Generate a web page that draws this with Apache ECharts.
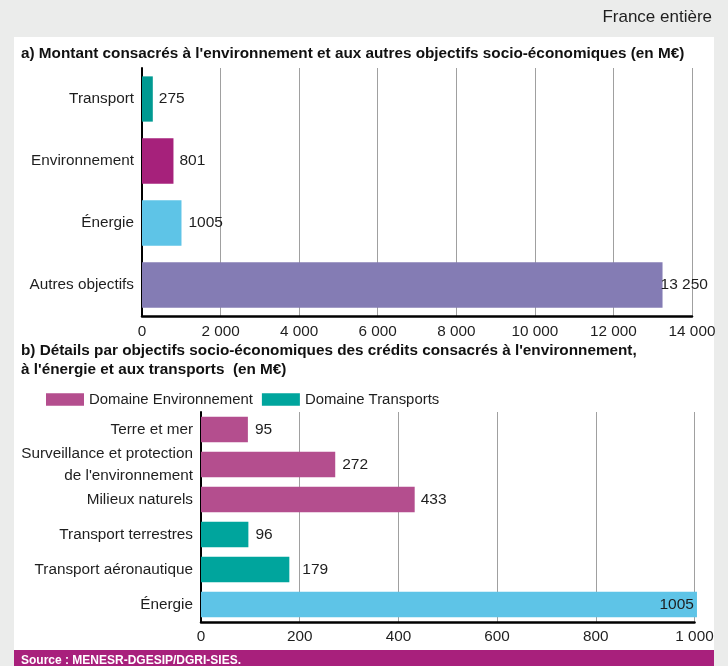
<!DOCTYPE html>
<html><head><meta charset="utf-8">
<script src="https://cdn.jsdelivr.net/npm/echarts@6/dist/echarts.min.js"></script>
<style>html,body{margin:0;padding:0;background:#ebeceb}#c{width:728px;height:666px}</style>
</head><body><div id="c"></div>
<script>
// ---- Data ----
const catsA = ['Transport', 'Environnement', 'Énergie', 'Autres objectifs'];
const valuesA = [275, 801, 1005, 13250];
const labelsA = ['275', '801', '1005', '13 250'];

const catsB = ['Terre et mer', "Surveillance et protection\nde l'environnement", 'Milieux naturels', 'Transport terrestres', 'Transport aéronautique', 'Énergie'];
const envB = [95, 272, 433, null, null, null];
const trpB = [null, null, null, 96, 179, null];
const nrgB = [null, null, null, null, null, 1005];
const ticksA = [0, 2000, 4000, 6000, 8000, 10000, 12000, 14000];
const ticksB = [0, 200, 400, 600, 800, 1000];

// ---- Styles ----
const FONT = "'Liberation Sans', Arial, sans-serif";
const TXT = '#1e1e1e';
const colorsA = ['#009a92', '#a6217b', '#5ec4e7', '#847cb4'];
const colEnv = '#b44e8e', colTrp = '#00a59d', colNrg = '#5ec4e7';
const distA = [6, 6, 7, -2];
const distB = [7, 7, 6, 7, 13, 3];
const fmt = v => { const s = String(v); return s.length > 3 ? s.slice(0, -3) + ' ' + s.slice(-3) : s; };

const chart = echarts.init(document.getElementById('c'));

const seriesA = {
  type: 'bar', xAxisIndex: 0, yAxisIndex: 0, barCategoryGap: '27%',
  data: valuesA.map((v, i) => ({
    value: v, itemStyle: { color: colorsA[i] },
    label: { show: true, position: 'right', distance: distA[i], formatter: labelsA[i],
      color: TXT, fontSize: 15.5, fontFamily: FONT }
  }))
};
function seriesB(name, arr, color) {
  return {
    name, type: 'bar', xAxisIndex: 1, yAxisIndex: 1, stack: 'b', barCategoryGap: '27%', clip: false,
    itemStyle: { color },
    data: arr.map((v, i) => v == null ? '-' : ({
      value: v,
      label: { show: true, position: i === 5 ? 'insideRight' : 'right', distance: distB[i],
        formatter: String(v), color: TXT, fontSize: 15.5, fontFamily: FONT }
    }))
  };
}

const valueAxis = (grid, max, interval, margin) => ({
  type: 'value', gridIndex: grid, min: 0, max, interval,
  axisLine: { show: true, lineStyle: { color: '#000', width: 2.5 } },
  axisTick: { show: false },
  splitLine: { show: true, lineStyle: { color: '#a0a0a0', width: 1 } },
  axisLabel: { color: TXT, fontSize: 15.3, fontFamily: FONT, margin, formatter: fmt }
});
const catAxis = (grid, data) => ({
  type: 'category', gridIndex: grid, data, inverse: true,
  axisLine: { show: true, lineStyle: { color: '#000', width: 2 } },
  axisTick: { show: false },
  axisLabel: { color: TXT, fontSize: 15.3, fontFamily: FONT, margin: 8, lineHeight: 22 }
});

chart.setOption({
  animation: false,
  backgroundColor: '#ebeceb',
  graphic: [
    { type: 'rect', shape: { x: 14, y: 37, width: 700, height: 613 }, style: { fill: '#ffffff' }, z: -10 },
    { type: 'rect', shape: { x: 14, y: 650, width: 700, height: 16 }, style: { fill: '#a8207c' }, z: 1 },
    { type: 'text', left: 21, top: 655, z: 2, style: { text: 'Source : MENESR-DGESIP/DGRI-SIES.', fill: '#fff', font: 'bold 12px ' + FONT } },
    { type: 'text', right: 16, top: 9, style: { text: 'France entière', fill: TXT, font: '17px ' + FONT } },
    { type: 'text', left: 21, top: 46, style: { text: "a) Montant consacrés à l'environnement et aux autres objectifs socio-économiques (en M€)", fill: '#111', font: 'bold 15.3px ' + FONT } },
    { type: 'text', left: 21, top: 343, style: { text: "b) Détails par objectifs socio-économiques des crédits consacrés à l'environnement,", fill: '#111', font: 'bold 15.3px ' + FONT } },
    { type: 'text', left: 21, top: 362, style: { text: "à l'énergie et aux transports  (en M€)", fill: '#111', font: 'bold 15.3px ' + FONT } }
  ],
  legend: {
    data: ['Domaine Environnement', 'Domaine Transports'],
    left: 41, top: 387, itemWidth: 38, itemHeight: 12.6, itemGap: 9, icon: 'rect',
    textStyle: { color: TXT, fontSize: 14.9, fontFamily: FONT }
  },
  grid: [
    { left: 142, right: 36, top: 68, bottom: 350 },
    { left: 201, right: 33.5, top: 412, bottom: 44 }
  ],
  xAxis: [valueAxis(0, ticksA[ticksA.length - 1], ticksA[1] - ticksA[0], 8), valueAxis(1, ticksB[ticksB.length - 1], ticksB[1] - ticksB[0], 7)],
  yAxis: [catAxis(0, catsA), catAxis(1, catsB)],
  series: [
    seriesA,
    seriesB('Domaine Environnement', envB, colEnv),
    seriesB('Domaine Transports', trpB, colTrp),
    seriesB('Énergie', nrgB, colNrg)
  ]
});
</script></body></html>
